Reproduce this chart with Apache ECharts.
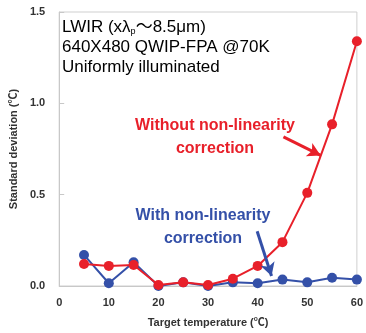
<!DOCTYPE html>
<html>
<head>
<meta charset="utf-8">
<script src="https://cdn.jsdelivr.net/npm/echarts@6/dist/echarts.min.js"></script>
<style>
  html, body { margin: 0; padding: 0; background: #fff; }
  #chart { width: 366px; height: 333px; }
</style>
</head>
<body>
<div id="chart"></div>
<script>
// Target temperature (°C)
const temperatures = [5, 10, 15, 20, 25, 30, 35, 40, 45, 50, 55, 60];
// Standard deviation (°C) without non-linearity correction
const withoutCorrection = [0.12, 0.11, 0.115, 0.005, 0.02, 0.005, 0.04, 0.11, 0.24, 0.51, 0.885, 1.34];
// Standard deviation (°C) with non-linearity correction
const withCorrection = [0.17, 0.015, 0.13, 0.0, 0.02, 0.0, 0.02, 0.015, 0.035, 0.02, 0.045, 0.035];
// Axis tick values
const xTicks = [0, 10, 20, 30, 40, 50, 60];
const yTicks = [0.0, 0.5, 1.0, 1.5];

const RED = '#e8202a';
const BLUE = '#3450a8';
const FONT = "'Liberation Sans', 'Noto Sans CJK JP', sans-serif";

const pairs = (vals) => temperatures.map((t, i) => [t, vals[i]]);

const chart = echarts.init(document.getElementById('chart'), null, { renderer: 'canvas' });

chart.setOption({
  animation: false,
  backgroundColor: '#fff',
  grid: {
    left: 56, right: 6, top: 12, bottom: 47,
    show: true, borderColor: '#cfcfcf', borderWidth: 1, backgroundColor: 'transparent'
  },
  xAxis: {
    type: 'value',
    min: xTicks[0], max: xTicks[xTicks.length - 1], interval: 10,
    name: 'Target temperature (℃)',
    nameLocation: 'middle', nameGap: 31,
    nameTextStyle: { fontFamily: FONT, fontSize: 11, fontWeight: 'bold', color: '#333' },
    axisLine: { show: true, lineStyle: { color: '#c8c8c8', width: 1 } },
    axisTick: { show: false },
    splitLine: { show: false },
    axisLabel: { fontFamily: FONT, fontSize: 11, fontWeight: 'bold', color: '#333', margin: 11 }
  },
  yAxis: {
    type: 'value',
    min: yTicks[0], max: yTicks[yTicks.length - 1], interval: 0.5,
    name: 'Standard deviation (℃)',
    nameLocation: 'middle', nameGap: 39,
    nameTextStyle: { fontFamily: FONT, fontSize: 11, fontWeight: 'bold', color: '#333' },
    axisLine: { show: true, lineStyle: { color: '#c8c8c8', width: 1 } },
    axisTick: { show: true, inside: true, length: 5, lineStyle: { color: '#c8c8c8' } },
    splitLine: { show: false },
    axisLabel: {
      fontFamily: FONT, fontSize: 11, fontWeight: 'bold', color: '#333', margin: 14,
      formatter: (v) => v.toFixed(1)
    }
  },
  series: [
    {
      name: 'With non-linearity correction',
      type: 'line',
      data: pairs(withCorrection),
      symbol: 'circle', symbolSize: 10,
      itemStyle: { color: BLUE },
      lineStyle: { color: BLUE, width: 2 },
      z: 2,
      markLine: {
        silent: true, animation: false,
        symbol: ['none', 'arrow'], symbolSize: [11, 13],
        label: { show: false },
        lineStyle: { color: BLUE, width: 3, type: 'solid' },
        data: [[{ coord: [39.9, 0.3] }, { coord: [42.8, 0.055] }]]
      }
    },
    {
      name: 'Without non-linearity correction',
      type: 'line',
      data: pairs(withoutCorrection),
      symbol: 'circle', symbolSize: 10,
      itemStyle: { color: RED },
      lineStyle: { color: RED, width: 2 },
      z: 3,
      markLine: {
        silent: true, animation: false,
        symbol: ['none', 'arrow'], symbolSize: [11, 13],
        label: { show: false },
        lineStyle: { color: RED, width: 3, type: 'solid' },
        data: [[{ coord: [45.2, 0.816] }, { coord: [52.7, 0.715] }]]
      }
    }
  ],
  graphic: [
    {
      type: 'text', left: 62, top: 19, z: 10,
      style: {
        text: '{a|LWIR (xλ}{s|p}{a|～8.5μm)}\n{a|640X480 QWIP-FPA @70K}\n{a|Uniformly illuminated}',
        rich: {
          a: { fontFamily: FONT, fontSize: 17, color: '#1a1a1a', lineHeight: 20 },
          s: { fontFamily: FONT, fontSize: 9, color: '#1a1a1a', lineHeight: 20, padding: [8, 0, 0, 0] }
        }
      }
    },
    {
      type: 'text', x: 215, y: 114, z: 10,
      style: {
        text: 'Without non-linearity\ncorrection',
        textAlign: 'center', fontFamily: FONT, fontSize: 16, fontWeight: 'bold',
        fill: RED, lineHeight: 23
      }
    },
    {
      type: 'text', x: 203, y: 204, z: 10,
      style: {
        text: 'With non-linearity\ncorrection',
        textAlign: 'center', fontFamily: FONT, fontSize: 16, fontWeight: 'bold',
        fill: BLUE, lineHeight: 23
      }
    }
  ]
});
</script>
</body>
</html>
